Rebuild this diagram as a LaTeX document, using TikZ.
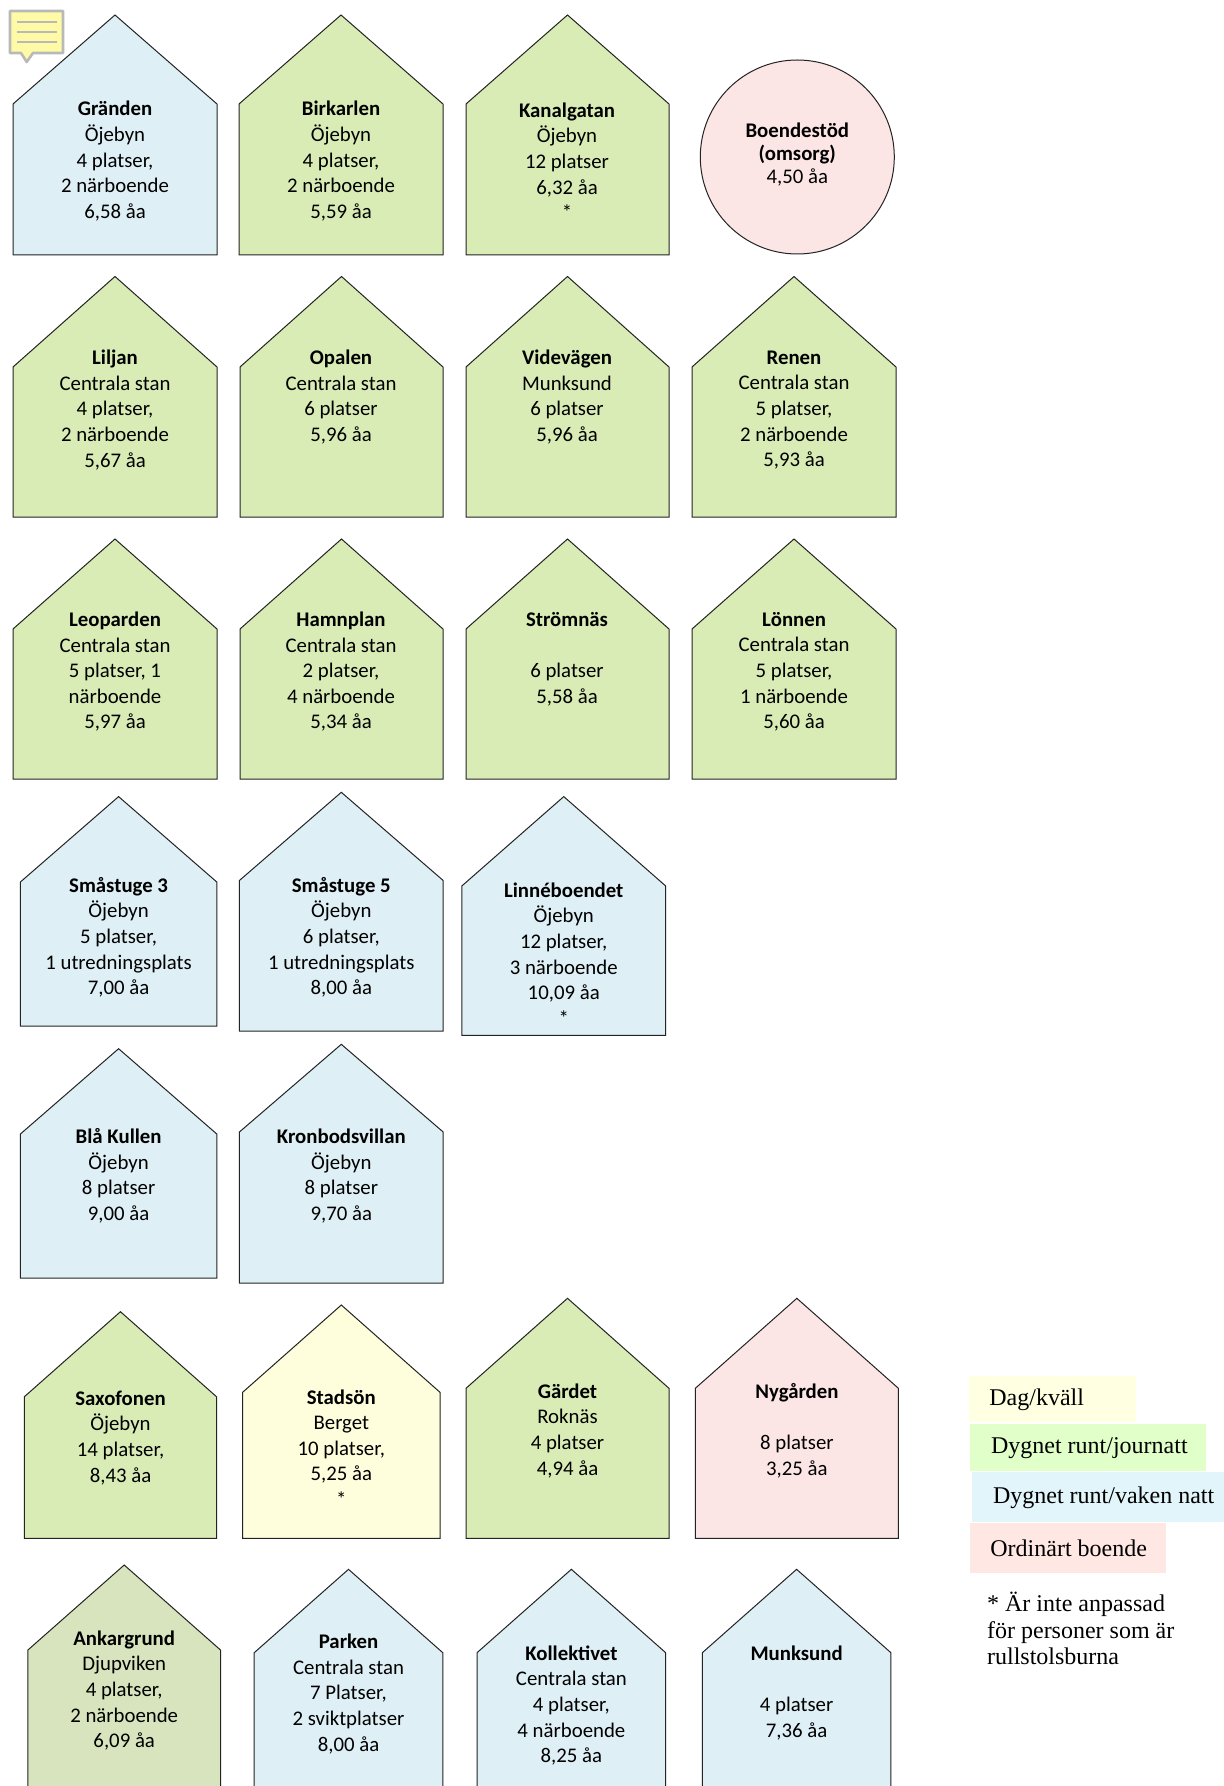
\documentclass[tikz,border=0pt]{standalone}
\usepackage{fontspec}
\setmainfont{Carlito}
\newfontfamily\legendfont{Liberation Serif}
\usepackage{tikz}
\usetikzlibrary{positioning}

\definecolor{LineColor}{RGB}{35,35,35}
\definecolor{NattColor}{RGB}{222,239,245}
\definecolor{JourColor}{RGB}{217,236,182}
\definecolor{AnkarColor}{RGB}{215,228,189}
\definecolor{OrdColor}{RGB}{252,229,229}
\definecolor{DagColor}{RGB}{254,254,220}
\definecolor{LegDag}{RGB}{255,255,225}
\definecolor{LegJour}{RGB}{225,255,200}
\definecolor{LegNatt}{RGB}{225,245,250}
\definecolor{LegOrd}{RGB}{255,232,228}
\definecolor{NoteFill}{RGB}{255,250,165}
\definecolor{NoteBorder}{RGB}{185,185,185}

\tikzstyle{husline} = [draw=LineColor, line width=0.5pt]
\tikzstyle{hustext} = [align=center, inner sep=0pt, font=\fontsize{10.4}{12.8}\selectfont]
\tikzstyle{legbox} = [inner sep=0pt, anchor=north west]
\tikzstyle{legtext} = [inner sep=0pt, align=left, font=\legendfont\fontsize{12}{13.35}\selectfont]

% hus: left, right, apex y, shoulder y, bottom y, fill
\newcommand{\hus}[6]{\draw[husline, fill=#6] (#1,#5) -- (#1,#4) -- ({(#1+#2)/2},#3) -- (#2,#4) -- (#2,#5) -- cycle;}

\begin{document}
\begin{tikzpicture}[x=0.5pt, y=-0.5pt]
\useasboundingbox (0,0) rectangle (1224,1786);
\clip (0,0) rectangle (1224,1786);

% row 1
\hus{13}{217}{15}{104}{255}{NattColor}
\node[hustext] (granden) at (115,161.2) {\textbf{Gränden}\\Öjebyn\\4 platser,\\2 närboende\\6,58 åa};
\hus{239}{443}{15}{104}{255}{JourColor}
\node[hustext] (birkarlen) at (341,161.2) {\textbf{Birkarlen}\\Öjebyn\\4 platser,\\2 närboende\\5,59 åa};
\hus{466}{669}{15}{104}{255}{JourColor}
\node[hustext] (kanalgatan) at (567,161.2) {\textbf{Kanalgatan}\\Öjebyn\\12 platser\\6,32 åa\\*};
\draw[husline, fill=OrdColor] (797.3,157) circle (97);
\node[hustext, font=\fontsize{10.4}{11.4}\selectfont] (boendestod) at (797.3,154.5) {\textbf{Boendestöd}\\\textbf{(omsorg)}\\4,50 åa};

% row 2
\hus{13}{217}{276.5}{367}{517}{JourColor}
\node[hustext] (liljan) at (115,410) {\textbf{Liljan}\\Centrala stan\\4 platser,\\2 närboende\\5,67 åa};
\hus{240}{443}{276.5}{367}{517}{JourColor}
\node[hustext] (opalen) at (341,397.2) {\textbf{Opalen}\\Centrala stan\\6 platser\\5,96 åa};
\hus{466}{669}{276.5}{367}{517}{JourColor}
\node[hustext] (videvagen) at (567,397.2) {\textbf{Videvägen}\\Munksund\\6 platser\\5,96 åa};
\hus{692}{896}{276.5}{367}{517}{JourColor}
\node[hustext] (renen) at (794,410) {\textbf{Renen}\\Centrala stan\\5 platser,\\2 närboende\\5,93 åa};

% row 3
\hus{13}{217}{539}{629}{779}{JourColor}
\node[hustext] (leoparden) at (115,671.7) {\textbf{Leoparden}\\Centrala stan\\5 platser, 1\\närboende\\5,97 åa};
\hus{240}{443}{539}{629}{779}{JourColor}
\node[hustext] (hamnplan) at (341,671.7) {\textbf{Hamnplan}\\Centrala stan\\2 platser,\\4 närboende\\5,34 åa};
\hus{466}{669}{539}{629}{779}{JourColor}
\node[hustext] (stromnas) at (567,658.9) {\textbf{Strömnäs}\\~\\6 platser\\5,58 åa};
\hus{692}{896}{539}{629}{779}{JourColor}
\node[hustext] (lonnen) at (794,671.7) {\textbf{Lönnen}\\Centrala stan\\5 platser,\\1 närboende\\5,60 åa};

% row 4
\hus{20.4}{216.8}{796.6}{882}{1026}{NattColor}
\node[hustext] (smastuge3) at (118.6,937.2) {\textbf{Småstuge 3}\\Öjebyn\\5 platser,\\1 utredningsplats\\7,00 åa};
\hus{239.4}{443.2}{792.3}{880.5}{1031}{NattColor}
\node[hustext] (smastuge5) at (341.3,937.2) {\textbf{Småstuge 5}\\Öjebyn\\6 platser,\\1 utredningsplats\\8,00 åa};
\hus{461.8}{665.7}{796.6}{886}{1035.4}{NattColor}
\node[hustext] (linne) at (563.7,954) {\textbf{Linnéboendet}\\Öjebyn\\12 platser,\\3 närboende\\10,09 åa\\*};

% row 5
\hus{20.4}{216.8}{1048.7}{1134}{1278}{NattColor}
\node[hustext] (blakullen) at (118.6,1175.9) {\textbf{Blå Kullen}\\Öjebyn\\8 platser\\9,00 åa};
\hus{239.4}{443.2}{1044.3}{1132}{1283}{NattColor}
\node[hustext] (kronbod) at (341.3,1175.9) {\textbf{Kronbodsvillan}\\Öjebyn\\8 platser\\9,70 åa};

% row 6
\hus{24.4}{216.5}{1311.7}{1396.7}{1538.3}{JourColor}
\node[hustext] (saxofonen) at (120.5,1437.7) {\textbf{Saxofonen}\\Öjebyn\\14 platser,\\8,43 åa};
\hus{242.6}{440}{1305}{1392.3}{1538.3}{DagColor}
\node[hustext] (stadson) at (341.3,1447.9) {\textbf{Stadsön}\\Berget\\10 platser,\\5,25 åa\\*};
\hus{466}{669}{1298.3}{1388.3}{1538.3}{JourColor}
\node[hustext] (gardet) at (567.5,1430.7) {\textbf{Gärdet}\\Roknäs\\4 platser\\4,94 åa};
\hus{695.3}{898.4}{1298.3}{1388.3}{1538.3}{OrdColor}
\node[hustext] (nygarden) at (796.9,1430.7) {\textbf{Nygården}\\~\\8 platser\\3,25 åa};

% row 7
\hus{27.9}{220.5}{1565}{1650}{1800}{AnkarColor}
\node[hustext] (ankargrund) at (124.2,1690.5) {\textbf{Ankargrund}\\Djupviken\\4 platser,\\2 närboende\\6,09 åa};
\hus{254.2}{442.8}{1569.3}{1652.7}{1800}{NattColor}
\node[hustext] (parken) at (348.5,1693.9) {\textbf{Parken}\\Centrala stan\\7 Platser,\\2 sviktplatser\\8,00 åa};
\hus{477}{665.7}{1569.3}{1652.7}{1800}{NattColor}
\node[hustext] (kollektivet) at (571.4,1705.5) {\textbf{Kollektivet}\\Centrala stan\\4 platser,\\4 närboende\\8,25 åa};
\hus{702.3}{890.9}{1569.3}{1652.7}{1800}{NattColor}
\node[hustext] (munksund) at (796.6,1692.7) {\textbf{Munksund}\\~\\4 platser\\7,36 åa};

% legend
\node[legbox, fill=LegDag, minimum width=83.5pt, minimum height=23pt] (dag) at (969,1376) {};
\node[legtext, anchor=west, right=10pt of dag.west] {Dag/kväll};
\node[legbox, fill=LegJour, minimum width=118pt, minimum height=23.5pt] (jour) at (970,1424) {};
\node[legtext, anchor=west, right=10.3pt of jour.west] {Dygnet runt/journatt};
\node[legbox, fill=LegNatt, minimum width=126pt, minimum height=25pt] (natt) at (972,1472) {};
\node[legtext, anchor=west, right=10.3pt of natt.west] {Dygnet runt/vaken natt};
\node[legbox, fill=LegOrd, minimum width=98pt, minimum height=25pt] (ord) at (970,1523) {};
\node[legtext, anchor=west, right=10pt of ord.west] {Ordinärt boende};
\node[legtext, anchor=west] (anpassad) at (986.7,1628.4) {* Är inte anpassad\\för personer som är\\rullstolsburna};

% comment icon
\draw[NoteBorder, line width=1.3pt, fill=NoteFill, line join=round] (10,11) -- (63,11) -- (63,53) -- (33,53) -- (26.7,62) -- (21,53) -- (10,53) -- cycle;
\foreach \ly in {22,32,42}
  \draw[NoteBorder, line width=1pt] (17,\ly) -- (57,\ly);
\end{tikzpicture}
\end{document}
